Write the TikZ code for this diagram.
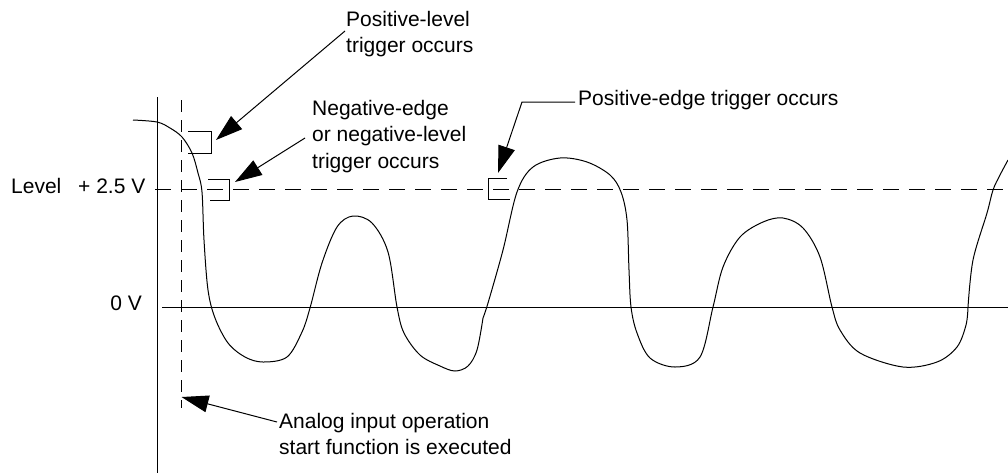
\documentclass[tikz,border=0pt]{standalone}
\usepackage{fontspec}
\setmainfont{Liberation Sans}
\usetikzlibrary{arrows.meta}
\begin{document}
\begin{tikzpicture}[x=1pt,y=-1pt,
  lbl/.style={font=\fontsize{21}{26.5}\selectfont, inner sep=0pt, align=left},
  wave/.style={line width=1pt, line join=round},
  axisline/.style={line width=1pt},
  dashv/.style={line width=1pt, dash pattern=on 12pt off 8pt},
  dashh/.style={line width=1pt, dash pattern=on 16pt off 10pt},
  callout/.style={line width=1pt, -{Triangle[length=27pt,width=17pt]}},
  bracket/.style={line width=1pt}]
\useasboundingbox (0,0) rectangle (1008,475);

% axes and reference lines
\coordinate (axTop) at (157,97);
\coordinate (axBot) at (157,473);
\draw[axisline] (axTop) -- (axBot);
\coordinate (zeroL) at (162,307.5);
\coordinate (zeroR) at (1008,307.5);
\draw[axisline] (zeroL) -- (zeroR);
\coordinate (lvlL) at (155,189);
\coordinate (lvlR) at (1008,189);
\draw[dashh] (lvlL) -- (lvlR);
\coordinate (stTop) at (181.5,100);
\coordinate (stBot) at (181.5,408);
\draw[dashv] (stTop) -- (stBot);

% waveform
\draw[wave] plot[smooth, tension=0.55] coordinates {
 (133,120) (157,122) (170,128) (182,137) (192,153) (198,173) (202,192)
 (204,240) (208,290) (215,318) (228,343) (245,357) (263,362)
 (287,357) (302,332) (310,308) (322,263) (337,227) (353,216) (372,223)
 (388,252) (397,307) (404,333) (420,355) (440,366) (455,371) (468,366)
 (477,350) (483,318)};
\draw[wave] plot[smooth, tension=0.55] coordinates {
 (483,318) (488,303) (503,250) (517,192) (533,167) (560,158) (587,162)
 (610,175) (621,192) (627,220) (629,270) (631,307) (637,333) (650,358)
 (675,367) (700,357) (713,307) (723,267) (740,237) (763,222) (783,218)
 (803,228) (820,257) (832,307) (840,330) (860,353) (903,367) (937,362)
 (957,347) (966,325) (968,307)};
\draw[wave] plot[smooth, tension=0.55] coordinates {
 (968,307) (973,260) (987,213) (993,190) (1000,175) (1008,160)};

% trigger markers
\draw[bracket] (188,131) -- (211,131) -- (211,153) -- (188,153);
\draw[bracket] (208,179) -- (229,179) -- (229,200) -- (210,200);
\draw[bracket] (507,178) -- (488,178) -- (488,199) -- (510,199);

% labels
\node[lbl, anchor=base west] (lvl) at (11,193) {Level};
\node[lbl, anchor=base west] (lvlv) at (78,193) {+ 2.5 V};
\node[lbl, anchor=base east] (zv) at (142,310) {0 V};
\node[lbl, anchor=north west] (pl) at (346,10.8) {Positive-level\\trigger occurs};
\node[lbl, anchor=north west] (ne) at (312,99.8) {Negative-edge\\or negative-level\\trigger occurs};
\node[lbl, anchor=base west] (pe) at (578,105) {Positive-edge trigger occurs};
\node[lbl, anchor=north west] (an) at (279,412.8) {Analog input operation\\start function is executed};

% callouts
\coordinate (plS) at (345,31);
\coordinate (plT) at (216,140);
\draw[callout] (plS) -- (plT);
\coordinate (neS) at (305,138);
\coordinate (neT) at (235,182);
\draw[callout] (neS) -- (neT);
\coordinate (peS) at (575,102);
\coordinate (peK) at (522,102);
\coordinate (peT) at (498,173);
\draw[callout] (peS) -- (peK) -- (peT);
\coordinate (anS) at (277,422);
\coordinate (anT) at (181.5,397);
\draw[callout] (anS) -- (anT);
\end{tikzpicture}
\end{document}
